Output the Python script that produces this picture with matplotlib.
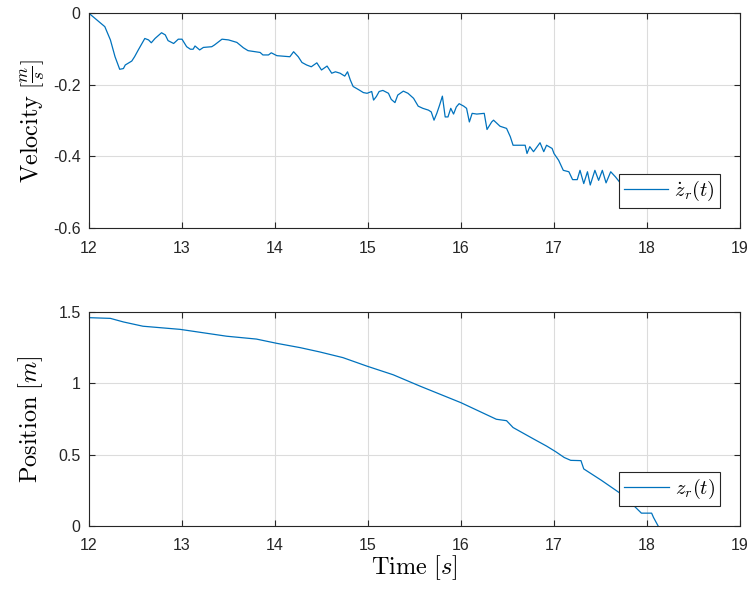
import matplotlib
matplotlib.use("Agg")
import matplotlib.pyplot as plt

# velocity samples
t_vel = [12.00, 12.01, 12.065, 12.17, 12.23, 12.28, 12.33, 12.37, 12.39, 12.46, 12.49, 12.53,
         12.60, 12.64, 12.67, 12.71, 12.78, 12.82, 12.85, 12.91, 12.96, 13.00, 13.05, 13.09,
         13.12, 13.14, 13.19, 13.23, 13.32, 13.35, 13.43, 13.50, 13.59, 13.66, 13.71, 13.84,
         13.87, 13.93, 13.96, 14.02, 14.16, 14.20, 14.25, 14.29, 14.34, 14.39, 14.45, 14.50,
         14.56, 14.61, 14.65, 14.70, 14.75, 14.78, 14.81, 14.84, 14.90, 14.95, 14.99, 15.04,
         15.06, 15.09, 15.12, 15.16, 15.22, 15.25, 15.29, 15.32, 15.38, 15.43, 15.49, 15.54,
         15.59, 15.65, 15.68, 15.71, 15.74, 15.77, 15.80, 15.83, 15.86, 15.89, 15.92, 15.95,
         15.98, 16.03, 16.06, 16.09, 16.12, 16.17, 16.25, 16.28, 16.33, 16.35, 16.42, 16.49,
         16.53, 16.56, 16.63, 16.69, 16.71, 16.74, 16.78, 16.85, 16.89, 16.92, 16.98, 17.00,
         17.05, 17.10, 17.16, 17.20, 17.25, 17.28, 17.32, 17.36, 17.39, 17.44, 17.48, 17.52,
         17.56, 17.61, 17.66, 17.70, 17.76, 17.82, 17.88, 17.93, 17.99, 18.02]
vel = [0.000, -0.003, -0.015, -0.038, -0.075, -0.122, -0.157, -0.155, -0.145, -0.134, -0.122, -0.103,
       -0.071, -0.075, -0.083, -0.071, -0.055, -0.061, -0.077, -0.085, -0.073, -0.073, -0.094, -0.101,
       -0.101, -0.092, -0.103, -0.096, -0.094, -0.089, -0.073, -0.075, -0.082, -0.097, -0.105, -0.110,
       -0.117, -0.117, -0.111, -0.119, -0.122, -0.108, -0.122, -0.138, -0.145, -0.150, -0.139, -0.159,
       -0.148, -0.168, -0.164, -0.168, -0.176, -0.164, -0.187, -0.205, -0.214, -0.222, -0.224, -0.219,
       -0.243, -0.233, -0.219, -0.216, -0.224, -0.241, -0.250, -0.229, -0.218, -0.224, -0.238, -0.260,
       -0.266, -0.271, -0.276, -0.299, -0.280, -0.257, -0.232, -0.290, -0.290, -0.266, -0.282, -0.262,
       -0.253, -0.260, -0.266, -0.304, -0.280, -0.282, -0.280, -0.325, -0.304, -0.299, -0.316, -0.322,
       -0.345, -0.369, -0.369, -0.369, -0.392, -0.373, -0.387, -0.362, -0.387, -0.369, -0.378, -0.392,
       -0.411, -0.439, -0.443, -0.465, -0.465, -0.439, -0.476, -0.443, -0.480, -0.439, -0.467, -0.439,
       -0.474, -0.443, -0.457, -0.470, -0.490, -0.505, -0.520, -0.541, -0.545, -0.545]

# position samples
t_pos = [12.00, 12.23, 12.37, 12.58, 12.98, 13.48, 13.80, 14.02, 14.27, 14.48, 14.73, 14.99,
         15.27, 15.56, 16.00, 16.38, 16.49, 16.56, 16.78, 16.92, 17.02, 17.11, 17.18, 17.29,
         17.32, 17.51, 17.71, 17.87, 17.94, 18.05, 18.07, 18.12]
pos = [1.460, 1.455, 1.430, 1.400, 1.378, 1.330, 1.310, 1.280, 1.250, 1.220, 1.180, 1.120,
       1.060, 0.980, 0.864, 0.748, 0.738, 0.690, 0.610, 0.560, 0.520, 0.480, 0.460, 0.458,
       0.400, 0.320, 0.230, 0.135, 0.090, 0.090, 0.060, 0.000]

x_ticks = [12, 13, 14, 15, 16, 17, 18, 19]

plt.rcParams["font.family"] = "Liberation Sans"
plt.rcParams["mathtext.fontset"] = "cm"

line_color = "#0072BD"
axis_color = "#262626"

fig = plt.figure(figsize=(7.53, 5.95), dpi=100)
ax1 = fig.add_axes([0.1182, 0.6168, 0.8645, 0.3613])
ax2 = fig.add_axes([0.1182, 0.1160, 0.8645, 0.3597])

ax1.plot(t_vel, vel, color=line_color, linewidth=0.9, label=r"$\dot{z}_r(t)$")
ax2.plot(t_pos, pos, color=line_color, linewidth=0.9, label=r"$z_r(t)$")

ax1.set_ylim(-0.6, 0)
ax1.set_yticks([-0.6, -0.4, -0.2, 0])
ax1.set_yticklabels(["-0.6", "-0.4", "-0.2", "0"])
ax2.set_ylim(0, 1.5)
ax2.set_yticks([0, 0.5, 1, 1.5])
ax2.set_yticklabels(["0", "0.5", "1", "1.5"])

for ax in (ax1, ax2):
    ax.set_xlim(12, 19)
    ax.set_xticks(x_ticks)
    ax.grid(True, color="#dcdcdc", linewidth=0.8)
    ax.set_axisbelow(True)
    ax.tick_params(direction="in", top=True, right=True, length=4, width=0.8,
                   colors=axis_color, labelsize=11.5)
    ax.tick_params(axis="x", pad=9)
    ax.tick_params(axis="y", pad=6)
    for s in ax.spines.values():
        s.set_color(axis_color)
        s.set_linewidth(0.8)
    leg = ax.legend(loc="lower right", bbox_to_anchor=(0.969, 0.094), borderaxespad=0,
                    fontsize=14.5, fancybox=False, framealpha=1, edgecolor=axis_color,
                    handlelength=2.2, borderpad=0.25, handletextpad=0.3)
    leg.get_frame().set_linewidth(0.8)

ax1.set_ylabel(r"$\mathrm{Velocity}\ \left[\frac{m}{s}\right]$", fontsize=17.5, labelpad=4)
ax2.set_ylabel(r"$\mathrm{Position}\ [m]$", fontsize=17.5, labelpad=10)
ax2.set_xlabel(r"$\mathrm{Time}\ [s]$", fontsize=17.5, labelpad=0)

fig.savefig("out.png", dpi=100)
